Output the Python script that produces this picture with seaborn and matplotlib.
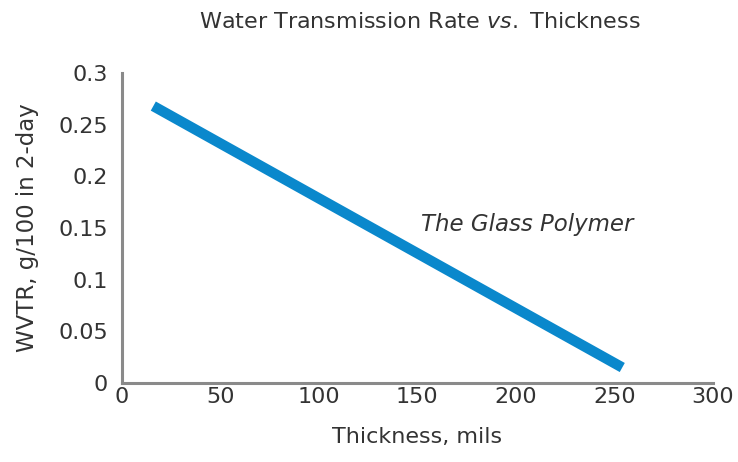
import numpy as np
import pandas as pd
import seaborn as sns
import matplotlib.pyplot as plt

# Data
thickness = [16, 254]
wvtr = [0.268, 0.015]
x_ticks = [0, 50, 100, 150, 200, 250, 300]
y_ticks = [0, 0.05, 0.1, 0.15, 0.2, 0.25, 0.3]
y_labels = ['0', '0.05', '0.1', '0.15', '0.2', '0.25', '0.3']

df = pd.DataFrame({'thickness': thickness, 'wvtr': wvtr})

sns.set_style("white")
plt.rcParams['font.family'] = ['DejaVu Sans']
plt.rcParams['mathtext.fontset'] = 'dejavusans'

fig = plt.figure(figsize=(7.38, 4.62), dpi=100)
ax = fig.add_axes([0.165, 0.171, 0.801, 0.671])

sns.lineplot(data=df, x='thickness', y='wvtr', ax=ax, color='#0a88cc',
             linewidth=7.5, solid_capstyle='butt')

ax.set_xlim(0, 300)
ax.set_ylim(0, 0.3)
ax.set_xticks(x_ticks)
ax.set_yticks(y_ticks)
ax.set_yticklabels(y_labels)
ax.tick_params(axis='both', length=0, labelsize=16, colors='#333333')
ax.tick_params(axis='x', pad=3)
ax.tick_params(axis='y', pad=10)

for side in ['top', 'right']:
    ax.spines[side].set_visible(False)
for side in ['left', 'bottom']:
    ax.spines[side].set_color('#8a8a8a')
    ax.spines[side].set_linewidth(2.2)

ax.set_xlabel('Thickness, mils', fontsize=16, color='#333333', labelpad=14)
ax.set_ylabel('WVTR, g/100 in 2-day', fontsize=16.5, color='#333333', labelpad=14)

fig.text(0.569, 0.952,
         r'$\mathrm{Water\ Transmission\ Rate\ }\mathit{vs.}\mathrm{\ Thickness}$',
         ha='center', va='center', fontsize=16, color='#333333')

ax.text(152, 0.153, 'The Glass Polymer', fontsize=16.5, style='italic',
        color='#333333', ha='left', va='center')

fig.savefig('out.png', dpi=100)
